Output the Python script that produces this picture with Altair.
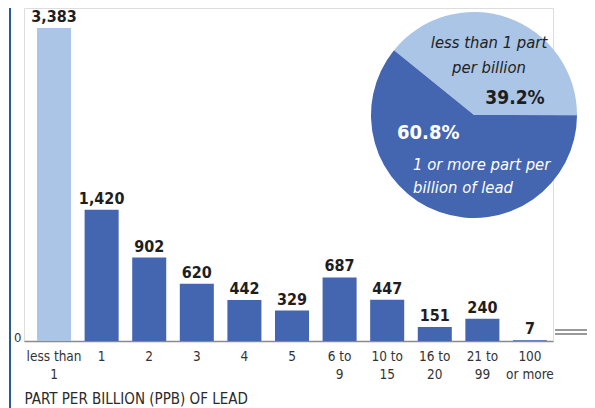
import altair as alt
import pandas as pd

categories = ["less than\n1", "1", "2", "3", "4", "5", "6 to\n9", "10 to\n15", "16 to\n20", "21 to\n99", "100\nor more"]
counts = [3383, 1420, 902, 620, 442, 329, 687, 447, 151, 240, 7]
labels = ["3,383", "1,420", "902", "620", "442", "329", "687", "447", "151", "240", "7"]
groups = ["less"] + ["more"] * 10

pie_groups = ["less", "more"]
pie_shares = [39.2, 60.8]

LIGHT = "#abc5e7"
DARK = "#4465b0"
FONT = "'Liberation Sans Narrow', 'DejaVu Sans Condensed', 'Roboto', sans-serif"

bars_df = pd.DataFrame({"cat": categories, "count": counts, "label": labels, "group": groups})
pie_df = pd.DataFrame({"group": pie_groups, "share": pie_shares, "order": [0, 1]})

xscale = alt.Scale(domain=categories, paddingInner=0.285, paddingOuter=0.2, align=0.684)
yscale = alt.Scale(domain=[0, 3600], nice=False)
cscale = alt.Scale(domain=["less", "more"], range=[LIGHT, DARK])

base = alt.Chart(bars_df)

bars = base.mark_bar().encode(
    x=alt.X("cat:N", scale=xscale, sort=None,
            axis=alt.Axis(title="PART PER BILLION (PPB) OF LEAD", labelAngle=0,
                          labelExpr="split(datum.label, '\\n')",
                          labelFont=FONT, labelFontSize=13.5, labelColor="#333333",
                          labelLineHeight=18, labelPadding=8, ticks=False,
                          domainColor="#8a8a8a", domainWidth=1.5,
                          titleFont=FONT, titleFontSize=15, titleFontWeight="normal",
                          titleColor="#2a2a2a", titleAnchor="start", titleAlign="left",
                          titleBaseline="alphabetic", titleX=0, titleY=62)),
    y=alt.Y("count:Q", scale=yscale,
            axis=alt.Axis(title=None, values=[0], grid=False, domain=False, ticks=False,
                          labelFont=FONT, labelFontSize=13, labelColor="#333333",
                          labelPadding=3, labelBaseline="alphabetic")),
    color=alt.Color("group:N", scale=cscale, legend=None),
)

values = base.mark_text(font=FONT, fontSize=16, fontWeight="bold", color="#1e1e1e",
                        baseline="alphabetic", dy=-6).encode(
    x=alt.X("cat:N", scale=xscale, sort=None),
    y=alt.Y("count:Q", scale=yscale),
    text="label:N",
)

pie = alt.Chart(pie_df).mark_arc(radius=103).encode(
    theta=alt.Theta("share:Q", stack=True, scale=alt.Scale(range=[-0.890, -0.890 + 6.2832])),
    color=alt.Color("group:N", scale=cscale, legend=None),
    order=alt.Order("order:Q"),
    x=alt.value(450),
    y=alt.value(107),
)

def note(text, x, y, size, color, weight="normal", style="normal", align="center"):
    return alt.Chart(pd.DataFrame({"t": [text]})).mark_text(
        font=FONT, fontSize=size, fontWeight=weight, fontStyle=style, color=color,
        align=align, baseline="middle").encode(
        text="t:N", x=alt.value(x), y=alt.value(y))

notes = [
    note("less than 1 part", 465, 35, 16.5, "#222222", style="italic"),
    note("per billion", 465, 60, 16.5, "#222222", style="italic"),
    note("39.2%", 491, 90, 19, "#1e1e1e", weight="bold"),
    note("60.8%", 373, 125, 20, "#ffffff", weight="bold", align="left"),
    note("1 or more part per", 389, 157, 16.5, "#ffffff", style="italic", align="left"),
    note("billion of lead", 389, 180, 16.5, "#ffffff", style="italic", align="left"),
]

brk1 = alt.Chart(pd.DataFrame({"k": [1]})).mark_rule(color="#777777", strokeWidth=1.3).encode(
    x=alt.value(531), x2=alt.value(580), y=alt.value(322))
brk2 = alt.Chart(pd.DataFrame({"k": [1]})).mark_rule(color="#777777", strokeWidth=1.3).encode(
    x=alt.value(531), x2=alt.value(580), y=alt.value(326))
edge = alt.Chart(pd.DataFrame({"k": [1]})).mark_rule(color="#2b5a98", strokeWidth=2).encode(
    x=alt.value(-14), y=alt.value(-5), y2=alt.value(400))

chart = alt.layer(bars, values, pie, *notes, brk1, brk2, edge).properties(
    width=529, height=333,
    autosize=alt.AutoSizeParams(type="none"),
    padding={"left": 16, "top": 0, "right": 34, "bottom": 67},
).configure_view(stroke=None).configure(background="white")

chart.save("out.html", embed_options={"renderer": "svg", "actions": False})
